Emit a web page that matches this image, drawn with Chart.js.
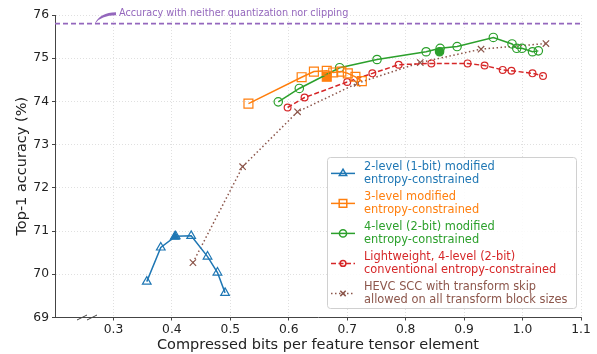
<!DOCTYPE html>
<html>
<head>
<meta charset="utf-8">
<script src="https://cdn.jsdelivr.net/npm/chart.js@4.4.1/dist/chart.umd.min.js"></script>
<style>
  html, body { margin: 0; padding: 0; background: #fff; }
</style>
</head>
<body>
<canvas id="chart" width="597" height="354"></canvas>
<script>
// bits per element (x) and top-1 accuracy (y) for each quantizer
const oneBitX = [0.357, 0.381, 0.4065, 0.433, 0.461, 0.478, 0.491];
const oneBitY = [69.83, 70.62, 70.88, 70.89, 70.41, 70.04, 69.57];

const threeLevelX = [0.531, 0.622, 0.643, 0.665, 0.676, 0.690, 0.701, 0.714, 0.725];
const threeLevelY = [73.95, 74.56, 74.69, 74.71, 74.67, 74.69, 74.65, 74.57, 74.47];

const twoBitX = [0.582, 0.618, 0.687, 0.751, 0.835, 0.859, 0.888, 0.950, 0.982, 0.990, 0.999, 1.017, 1.027];
const twoBitY = [73.99, 74.30, 74.78, 74.97, 75.15, 75.23, 75.27, 75.48, 75.33, 75.23, 75.23, 75.15, 75.17];

const lightX = [0.598, 0.627, 0.700, 0.743, 0.788, 0.844, 0.906, 0.935, 0.966, 0.981, 1.017, 1.035];
const lightY = [73.86, 74.09, 74.45, 74.65, 74.85, 74.88, 74.88, 74.83, 74.73, 74.71, 74.65, 74.59];

const hevcX = [0.436, 0.521, 0.615, 0.717, 0.825, 0.929, 1.040];
const hevcY = [70.27, 72.49, 73.76, 74.42, 74.90, 75.21, 75.34];

// chosen operating points (filled markers)
const pickedX = [0.405, 0.665, 0.858];
const pickedY = [70.87, 74.57, 75.15];

const baselineAcc = 75.8;
const xTicks = [0.3, 0.4, 0.5, 0.6, 0.7, 0.8, 0.9, 1.0, 1.1];

const legendText = [
  ['2-level (1-bit) modified', 'entropy-constrained'],
  ['3-level modified', 'entropy-constrained'],
  ['4-level (2-bit) modified', 'entropy-constrained'],
  ['Lightweight, 4-level (2-bit)', 'conventional entropy-constrained'],
  ['HEVC SCC with transform skip', 'allowed on all transform block sizes']
];

const BLUE = '#1f77b4', ORANGE = '#ff7f0e', GREEN = '#2ca02c',
      RED = '#d62728', PURPLE = '#9467bd', BROWN = '#8c564b';
const FONT = '"DejaVu Sans", sans-serif';

function pts(xs, ys) {
  return xs.map((x, i) => ({x: x, y: ys[i]}));
}

function series(xs, ys, color, style, radius, dash) {
  return {
    data: pts(xs, ys),
    borderColor: color,
    backgroundColor: color,
    pointBackgroundColor: 'rgba(0,0,0,0)',
    pointBorderColor: color,
    pointStyle: style,
    pointRadius: radius,
    pointBorderWidth: 1.2,
    borderWidth: 1.5,
    borderDash: dash || [],
    tension: 0,
    showLine: true
  };
}

function picked(i, color, style, radius) {
  return {
    data: [{x: pickedX[i], y: pickedY[i]}],
    borderColor: color,
    pointBackgroundColor: color,
    pointBorderColor: color,
    pointStyle: style,
    pointRadius: radius,
    pointBorderWidth: 1.2,
    showLine: false
  };
}

const datasets = [
  series(oneBitX, oneBitY, BLUE, 'triangle', 5),
  series(threeLevelX, threeLevelY, ORANGE, 'rect', 6.3),
  series(twoBitX, twoBitY, GREEN, 'circle', 4.2),
  series(lightX, lightY, RED, 'circle', 3.4, [5, 2.5]),
  series(hevcX, hevcY, BROWN, 'crossRot', 4.5, [1.5, 2.5]),
  picked(0, BLUE, 'triangle', 5),
  picked(1, ORANGE, 'rect', 6.3),
  picked(2, GREEN, 'circle', 4.2),
  {
    data: [{x: 0.2, y: baselineAcc}, {x: 1.1, y: baselineAcc}],
    borderColor: PURPLE,
    backgroundColor: PURPLE,
    borderWidth: 1.8,
    borderDash: [5, 3],
    pointRadius: 0,
    showLine: true
  }
];

// the five legend entries reuse the dataset styles
const legendSeries = datasets.slice(0, 5);

const extras = {
  id: 'extras',
  afterDraw(chart) {
    const ctx = chart.ctx;
    const area = chart.chartArea;
    const xs = chart.scales.x, ys = chart.scales.y;
    ctx.save();

    // broken-axis marks
    ctx.strokeStyle = '#444';
    ctx.lineWidth = 1;
    ctx.setLineDash([]);
    [77, 87].forEach(x0 => {
      ctx.beginPath();
      ctx.moveTo(x0, area.bottom + 2.5);
      ctx.lineTo(x0 + 10, area.bottom - 2.5);
      ctx.stroke();
    });

    // note on the baseline accuracy with a wedge arrow
    const tipX = xs.getPixelForValue(0.268), tipY = ys.getPixelForValue(baselineAcc);
    ctx.fillStyle = PURPLE;
    ctx.beginPath();
    ctx.moveTo(116, 12.3);
    ctx.quadraticCurveTo(100, 12.5, tipX, tipY);
    ctx.quadraticCurveTo(101, 15.5, 116, 15.3);
    ctx.closePath();
    ctx.fill();
    ctx.font = '9.7px ' + FONT;
    ctx.textBaseline = 'middle';
    ctx.textAlign = 'left';
    ctx.fillText('Accuracy with neither quantization nor clipping', 119, 13.3);

    // legend box
    const bx = 327, by = 157, bw = 249, bh = 151;
    ctx.fillStyle = 'rgba(255,255,255,0.85)';
    ctx.strokeStyle = '#d0d0d0';
    ctx.lineWidth = 1;
    ctx.beginPath();
    ctx.roundRect(bx + 0.5, by + 0.5, bw, bh, 3);
    ctx.fill();
    ctx.stroke();

    ctx.font = '11.4px ' + FONT;
    legendSeries.forEach((ds, i) => {
      const y1 = 166.7 + i * 30;
      const ym = y1 + 6.7;
      ctx.strokeStyle = ds.borderColor;
      ctx.lineWidth = ds.borderWidth;
      ctx.setLineDash(ds.borderDash);
      ctx.beginPath();
      ctx.moveTo(331, ym);
      ctx.lineTo(355, ym);
      ctx.stroke();
      ctx.setLineDash([]);
      ctx.fillStyle = 'rgba(0,0,0,0)';
      Chart.helpers.drawPoint(ctx, {
        pointStyle: ds.pointStyle, radius: ds.pointRadius * 0.85,
        rotation: 0, borderWidth: ds.pointBorderWidth
      }, 343, ym);
      ctx.fillStyle = ds.borderColor;
      ctx.fillText(legendText[i][0], 364, y1);
      ctx.fillText(legendText[i][1], 364, y1 + 13.3);
    });
    ctx.restore();
  }
};

new Chart(document.getElementById('chart'), {
  type: 'scatter',
  data: {datasets: datasets},
  options: {
    responsive: false,
    animation: false,
    layout: {padding: {left: 0, right: 16, top: 15, bottom: 0}},
    plugins: {legend: {display: false}, tooltip: {enabled: false}},
    scales: {
      x: {
        type: 'linear',
        min: 0.2,
        max: 1.1,
        afterBuildTicks: s => { s.ticks = xTicks.map(v => ({value: v})); },
        afterFit: s => { s.height = 36.5; },
        ticks: {
          color: '#222', font: {family: FONT, size: 12.3}, padding: 2,
          maxRotation: 0, autoSkip: false,
          callback: v => Number(v).toFixed(1)
        },
        grid: {color: '#d8d8d8', lineWidth: 0.8, tickLength: 3, tickColor: '#444', tickWidth: 1},
        border: {color: '#444', width: 1, dash: [1, 2]},
        title: {
          display: true, text: 'Compressed bits per feature tensor element',
          color: '#222', font: {family: FONT, size: 14.5}, padding: {top: 0, bottom: 0}
        }
      },
      y: {
        type: 'linear',
        min: 69,
        max: 76,
        afterFit: s => { s.width = 55; },
        ticks: {stepSize: 1, color: '#222', font: {family: FONT, size: 12.3}, padding: 3},
        grid: {color: '#d8d8d8', lineWidth: 0.8, tickLength: 3, tickColor: '#444', tickWidth: 1},
        border: {color: '#444', width: 1, dash: [1, 2]},
        title: {
          display: true, text: 'Top-1 accuracy (%)',
          color: '#222', font: {family: FONT, size: 14.5}, padding: {top: 14, bottom: 0}
        }
      }
    }
  },
  plugins: [extras]
});
</script>
</body>
</html>
